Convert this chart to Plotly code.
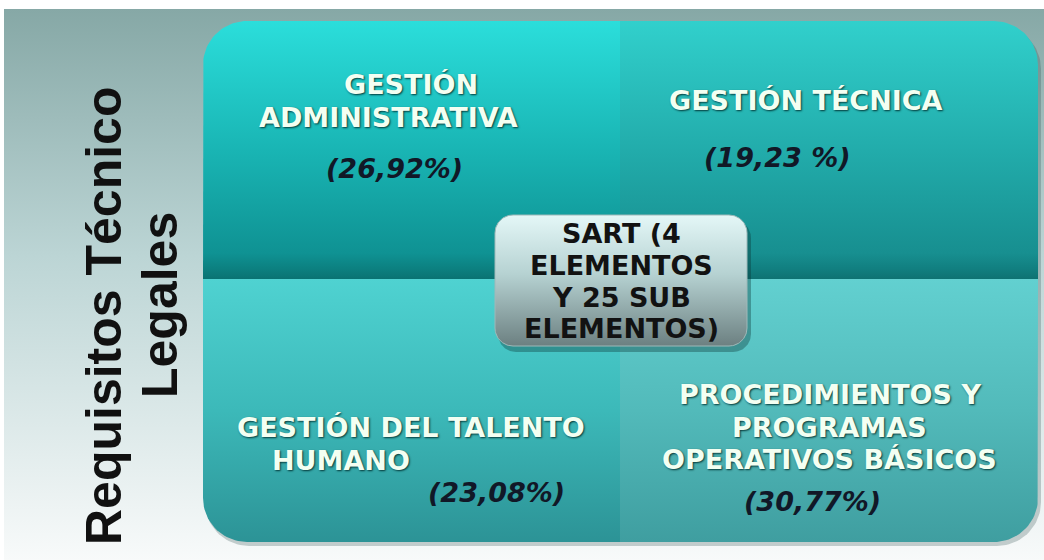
import numpy as np
import plotly.graph_objects as go

# ---------------- data ----------------
categorias = [
    ["GESTIÓN", "ADMINISTRATIVA"],
    ["GESTIÓN TÉCNICA"],
    ["GESTIÓN DEL TALENTO", "HUMANO"],
    ["PROCEDIMIENTOS Y", "PROGRAMAS", "OPERATIVOS BÁSICOS"],
]
porcentajes = [26.92, 19.23, 23.08, 30.77]
etiquetas_pct = ["(26,92%)", "(19,23 %)", "(23,08%)", "(30,77%)"]
centro = ["SART (4", "ELEMENTOS", "Y 25 SUB", "ELEMENTOS)"]
eje_izq = ["Requisitos Técnico", "Legales"]

# ---------------- layout (pixel geometry) ----------------
W, H = 1044, 560
GX0, GX1, GY0, GY1 = 203, 1038, 21, 542
MX, MY = 620, 279
R = 44

quad_boxes = [  # x0, y0, x1, y1, radii (tl, tr, br, bl)
    (GX0, GY0, MX, MY, (R, 0, 0, 0)),
    (MX, GY0, GX1, MY, (0, R, 0, 0)),
    (GX0, MY, MX, GY1, (0, 0, 0, R)),
    (MX, MY, GX1, GY1, (0, 0, R, 0)),
]
quad_colors = [
    [[0, "#2bdedb"], [0.5, "#19b5b4"], [0.9, "#0f9293"], [0.96, "#0c8080"], [1, "#0a7272"]],
    [[0, "#31d0cc"], [0.5, "#22acab"], [0.9, "#178f90"], [0.96, "#117f80"], [1, "#0e7272"]],
    [[0, "#4fd2d1"], [0.5, "#3cb9b9"], [1, "#2c9396"]],
    [[0, "#62d0d0"], [0.5, "#52baba"], [1, "#3f9ea0"]],
]
title_lines_pos = [
    [(411, 84), (388, 117)],
    [(806, 100)],
    [(411, 427), (341, 460)],
    [(830, 394), (829, 427), (829, 459)],
]
pct_pos = [(394, 168), (777, 157), (496, 492), (812, 501)]
centro_box = (495, 215, 747, 346)
centro_pos = [(621, 233), (621, 265), (621, 297), (621, 328)]
eje_pos = [(104, 316), (160, 305)]


def rrect(x0, y0, x1, y1, radii, n=24):
    rtl, rtr, rbr, rbl = radii
    xs, ys = [], []

    def corner(cx, cy, r, a0, a1, px, py):
        if r == 0:
            xs.append(px); ys.append(py)
            return
        t = np.linspace(a0, a1, n)
        xs.extend(cx + r * np.cos(t)); ys.extend(cy + r * np.sin(t))

    corner(x1 - rtr, y0 + rtr, rtr, -np.pi / 2, 0, x1, y0)
    corner(x1 - rbr, y1 - rbr, rbr, 0, np.pi / 2, x1, y1)
    corner(x0 + rbl, y1 - rbl, rbl, np.pi / 2, np.pi, x0, y1)
    corner(x0 + rtl, y0 + rtl, rtl, np.pi, 1.5 * np.pi, x0, y0)
    xs.append(xs[0]); ys.append(ys[0])
    return xs, ys


fig = go.Figure()

# background panel gradient
bx, by = rrect(4, 9, W, H, (0, 0, 0, 0))
fig.add_trace(go.Scatter(
    x=bx, y=by, mode="lines", fill="toself", line=dict(width=0),
    fillgradient=dict(type="vertical", start=9, stop=H,
                      colorscale=[[0, "#86a8a6"], [0.45, "#bcd5d5"], [1, "#f8fafa"]]),
    hoverinfo="skip", showlegend=False))

# soft shadow under grid
sx, sy = rrect(GX0 + 2, GY0 + 4, GX1 + 3, GY1 + 4, (R, R, R, R))
fig.add_trace(go.Scatter(x=sx, y=sy, mode="lines", fill="toself", line=dict(width=0),
                         fillcolor="rgba(40,70,70,0.25)", hoverinfo="skip", showlegend=False))

# quadrants
for (x0, y0, x1, y1, radii), cs in zip(quad_boxes, quad_colors):
    qx, qy = rrect(x0, y0, x1, y1, radii)
    fig.add_trace(go.Scatter(
        x=qx, y=qy, mode="lines", fill="toself", line=dict(width=0),
        fillgradient=dict(type="vertical", start=y0, stop=y1, colorscale=cs),
        hoverinfo="skip", showlegend=False))

# center box shadow + box
cx0, cy0, cx1, cy1 = centro_box
shx, shy = rrect(cx0 + 3, cy0 + 5, cx1 + 4, cy1 + 6, (18, 18, 18, 18))
fig.add_trace(go.Scatter(x=shx, y=shy, mode="lines", fill="toself", line=dict(width=0),
                         fillcolor="rgba(10,50,50,0.35)", hoverinfo="skip", showlegend=False))
bx2, by2 = rrect(cx0, cy0, cx1, cy1, (18, 18, 18, 18))
fig.add_trace(go.Scatter(
    x=bx2, y=by2, mode="lines", fill="toself", line=dict(width=1, color="#9fb9b9"),
    fillgradient=dict(type="vertical", start=cy0, stop=cy1,
                      colorscale=[[0, "#e4f7f7"], [0.45, "#b6d2d2"], [1, "#6c8081"]]),
    hoverinfo="skip", showlegend=False))

shapes = [
    dict(type="line", x0=MX, x1=MX, y0=GY0, y1=MY, line=dict(color="#0b7676", width=2), layer="below"),
    dict(type="line", x0=MX, x1=MX, y0=MY, y1=GY1, line=dict(color="#2e9596", width=2), layer="below"),
]

annotations = []
title_font = dict(family="DejaVu Sans", size=27, color="#f3fff2", weight=700,
                  shadow="1px 1px 2px rgba(0,50,50,0.95)")
for lines, poss in zip(categorias, title_lines_pos):
    for txt, (x, y) in zip(lines, poss):
        annotations.append(dict(x=x, y=y, text=txt, showarrow=False, font=title_font,
                                xanchor="center", yanchor="middle"))
for lab, (x, y) in zip(etiquetas_pct, pct_pos):
    annotations.append(dict(x=x, y=y, text=lab, showarrow=False,
                            font=dict(family="DejaVu Sans", size=27, color="#111827",
                                      weight=700, style="italic"),
                            xanchor="center", yanchor="middle"))
for txt, (x, y) in zip(centro, centro_pos):
    annotations.append(dict(x=x, y=y, text=txt, showarrow=False,
                            font=dict(family="DejaVu Sans", size=27, color="#121212", weight=700),
                            xanchor="center", yanchor="middle"))
for txt, (x, y) in zip(eje_izq, eje_pos):
    annotations.append(dict(x=x, y=y, text=txt, showarrow=False, textangle=-90,
                            font=dict(family="Liberation Sans", size=50, color="#111111", weight=700),
                            xanchor="center", yanchor="middle"))

for a in annotations:
    a.update(xref="x", yref="y")

fig.update_layout(
    width=W, height=H, margin=dict(l=0, r=0, t=0, b=0),
    paper_bgcolor="white", plot_bgcolor="white",
    xaxis=dict(range=[0, W], visible=False, fixedrange=True),
    yaxis=dict(range=[H, 0], visible=False, fixedrange=True),
    shapes=shapes, annotations=annotations, showlegend=False,
)

fig.write_html("out.html", config={"displayModeBar": False},
               post_script="document.body.style.margin='0';document.body.style.overflow='hidden';")
